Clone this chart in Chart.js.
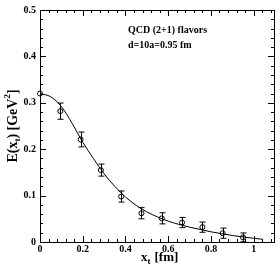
<!DOCTYPE html>
<html>
<head>
<meta charset="UTF-8">
<title>QCD E(xt)</title>
<style>
    body {
        margin: 0;
        background: #fff;
    }
    #chartContainer {
        width: 280px;
        height: 272px;
        position: relative;
    }
</style>
<script src="https://cdn.jsdelivr.net/npm/chart.js"></script>
</head>
<body>

<div id="chartContainer">
    <canvas id="eChart"></canvas>
</div>

<script>
// lattice points with error bars
const xPts = [0, 0.095, 0.19, 0.285, 0.38, 0.475, 0.57, 0.665, 0.76, 0.855, 0.95];
const yPts = [0.320, 0.282, 0.221, 0.155, 0.098, 0.062, 0.051, 0.042, 0.032, 0.019, 0.010];
const yErr = [0, 0.0175, 0.016, 0.013, 0.012, 0.012, 0.012, 0.011, 0.011, 0.011, 0.0095];

// fitted curve
const xFit = [0, 0.05, 0.1, 0.15, 0.2, 0.25, 0.3, 0.35, 0.4, 0.45, 0.5, 0.55, 0.6, 0.65, 0.7, 0.75, 0.8, 0.85, 0.9, 0.95, 1.0, 1.04];
const yFit = [0.320, 0.313, 0.292, 0.256, 0.215, 0.180, 0.147, 0.120, 0.097, 0.079, 0.065, 0.054, 0.045, 0.038, 0.032, 0.027, 0.022, 0.018, 0.014, 0.011, 0.008, 0.006];

const xTicks = [0, 0.2, 0.4, 0.6, 0.8, 1];
const yTicks = [0, 0.1, 0.2, 0.3, 0.4, 0.5];
const xTickLabels = ['0', '0.2', '0.4', '0.6', '0.8', '1'];
const yTickLabels = ['0', '0.1', '0.2', '0.3', '0.4', '0.5'];

const SERIF = "'Liberation Serif', 'DejaVu Serif', serif";

// frame, inward ticks, error bars, titles and notes
const decorPlugin = {
    id: 'decor',
    afterDatasetsDraw(chart) {
        const ctx = chart.ctx;
        const xs = chart.scales.x, ys = chart.scales.y;
        const a = chart.chartArea;
        ctx.save();
        ctx.strokeStyle = '#000';
        ctx.lineWidth = 1;

        // error bars
        xPts.forEach((x, i) => {
            if (!yErr[i]) return;
            const px = Math.round(xs.getPixelForValue(x)) + 0.5;
            const y1 = ys.getPixelForValue(yPts[i] + yErr[i]);
            const y2 = ys.getPixelForValue(yPts[i] - yErr[i]);
            ctx.beginPath();
            ctx.moveTo(px, y1); ctx.lineTo(px, y2);
            ctx.moveTo(px - 3, y1); ctx.lineTo(px + 3, y1);
            ctx.moveTo(px - 3, y2); ctx.lineTo(px + 3, y2);
            ctx.stroke();
        });

        // frame
        ctx.strokeRect(Math.round(a.left) + 0.5, Math.round(a.top) + 0.5,
            Math.round(a.right - a.left) - 1, Math.round(a.bottom - a.top));

        // x ticks, bottom and top
        ctx.beginPath();
        for (let k = 0; k <= 27; k++) {
            const v = k * 0.04;
            if (v > 1.1) break;
            const px = Math.round(xs.getPixelForValue(v)) + 0.5;
            const len = (k % 5 === 0) ? 6 : 3;
            ctx.moveTo(px, a.bottom); ctx.lineTo(px, a.bottom - len);
            ctx.moveTo(px, a.top); ctx.lineTo(px, a.top + len);
        }
        // y ticks, left and right
        for (let k = 0; k <= 25; k++) {
            const v = k * 0.02;
            const py = Math.round(ys.getPixelForValue(v)) + 0.5;
            const len = (k % 5 === 0) ? 6 : 3;
            ctx.moveTo(a.left, py); ctx.lineTo(a.left + len, py);
            ctx.moveTo(a.right - 1, py); ctx.lineTo(a.right - 1 - len, py);
        }
        ctx.stroke();

        // notes inside the plot
        ctx.fillStyle = '#000';
        ctx.font = 'bold 10px ' + SERIF;
        ctx.textAlign = 'left';
        ctx.textBaseline = 'alphabetic';
        ctx.fillText('QCD (2+1) flavors', 128, 33);
        ctx.fillText('d=10a=0.95 fm', 128, 48);

        // x title: x_t [fm]
        let sx = 141;
        const by = 261;
        ctx.font = 'bold 13px ' + SERIF;
        ctx.fillText('x', sx, by);
        sx += ctx.measureText('x').width;
        ctx.font = 'bold 9px ' + SERIF;
        ctx.fillText('t', sx, by + 3);
        sx += ctx.measureText('t').width + 4;
        ctx.font = 'bold 13px ' + SERIF;
        ctx.fillText('[fm]', sx, by);

        // y title: E(x_t) [GeV^2], rotated
        ctx.translate(17, (a.top + a.bottom) / 2);
        ctx.rotate(-Math.PI / 2);
        const parts = [
            ['E(x', 14, 0], ['t', 9, 3], [') [GeV', 14, 0], ['2', 9, -7], [']', 14, 0]
        ];
        let total = 0;
        parts.forEach(p => {
            ctx.font = 'bold ' + p[1] + 'px ' + SERIF;
            total += ctx.measureText(p[0]).width;
        });
        let tx = -total / 2;
        parts.forEach(p => {
            ctx.font = 'bold ' + p[1] + 'px ' + SERIF;
            ctx.fillText(p[0], tx, p[2]);
            tx += ctx.measureText(p[0]).width;
        });
        ctx.restore();
    }
};

const ctx = document.getElementById('eChart').getContext('2d');

const eChart = new Chart(ctx, {
    type: 'scatter',
    data: {
        datasets: [{
            label: 'fit',
            data: xFit.map((x, i) => ({ x: x, y: yFit[i] })),
            showLine: true,
            borderColor: '#000',
            borderWidth: 1,
            pointRadius: 0,
            cubicInterpolationMode: 'monotone',
            clip: false
        }, {
            label: 'lattice',
            data: xPts.map((x, i) => ({ x: x, y: yPts[i] })),
            showLine: false,
            borderColor: '#000',
            backgroundColor: 'rgba(255,255,255,0)',
            borderWidth: 1,
            pointRadius: 2.5,
            clip: false
        }]
    },
    options: {
        responsive: true,
        maintainAspectRatio: false,
        animation: false,
        devicePixelRatio: 1,
        layout: { padding: { top: 4, right: 1, left: 0, bottom: 0 } },
        plugins: {
            legend: { display: false },
            tooltip: { enabled: false }
        },
        scales: {
            x: {
                type: 'linear',
                min: 0,
                max: 1.1,
                grid: { display: false, drawTicks: false },
                border: { display: false },
                afterBuildTicks: s => { s.ticks = xTicks.map(v => ({ value: v })); },
                afterFit: s => { s.height = 30; },
                ticks: {
                    padding: 1,
                    maxRotation: 0,
                    color: '#000',
                    font: { family: SERIF, size: 10, weight: 'bold' },
                    callback: v => xTickLabels[xTicks.indexOf(v)]
                }
            },
            y: {
                type: 'linear',
                min: 0,
                max: 0.5,
                grid: { display: false, drawTicks: false },
                border: { display: false },
                afterBuildTicks: s => { s.ticks = yTicks.map(v => ({ value: v })); },
                afterFit: s => { s.width = 40; },
                ticks: {
                    padding: 4,
                    color: '#000',
                    font: { family: SERIF, size: 10, weight: 'bold' },
                    callback: v => yTickLabels[yTicks.indexOf(v)]
                }
            }
        }
    },
    plugins: [decorPlugin]
});
</script>

</body>
</html>
